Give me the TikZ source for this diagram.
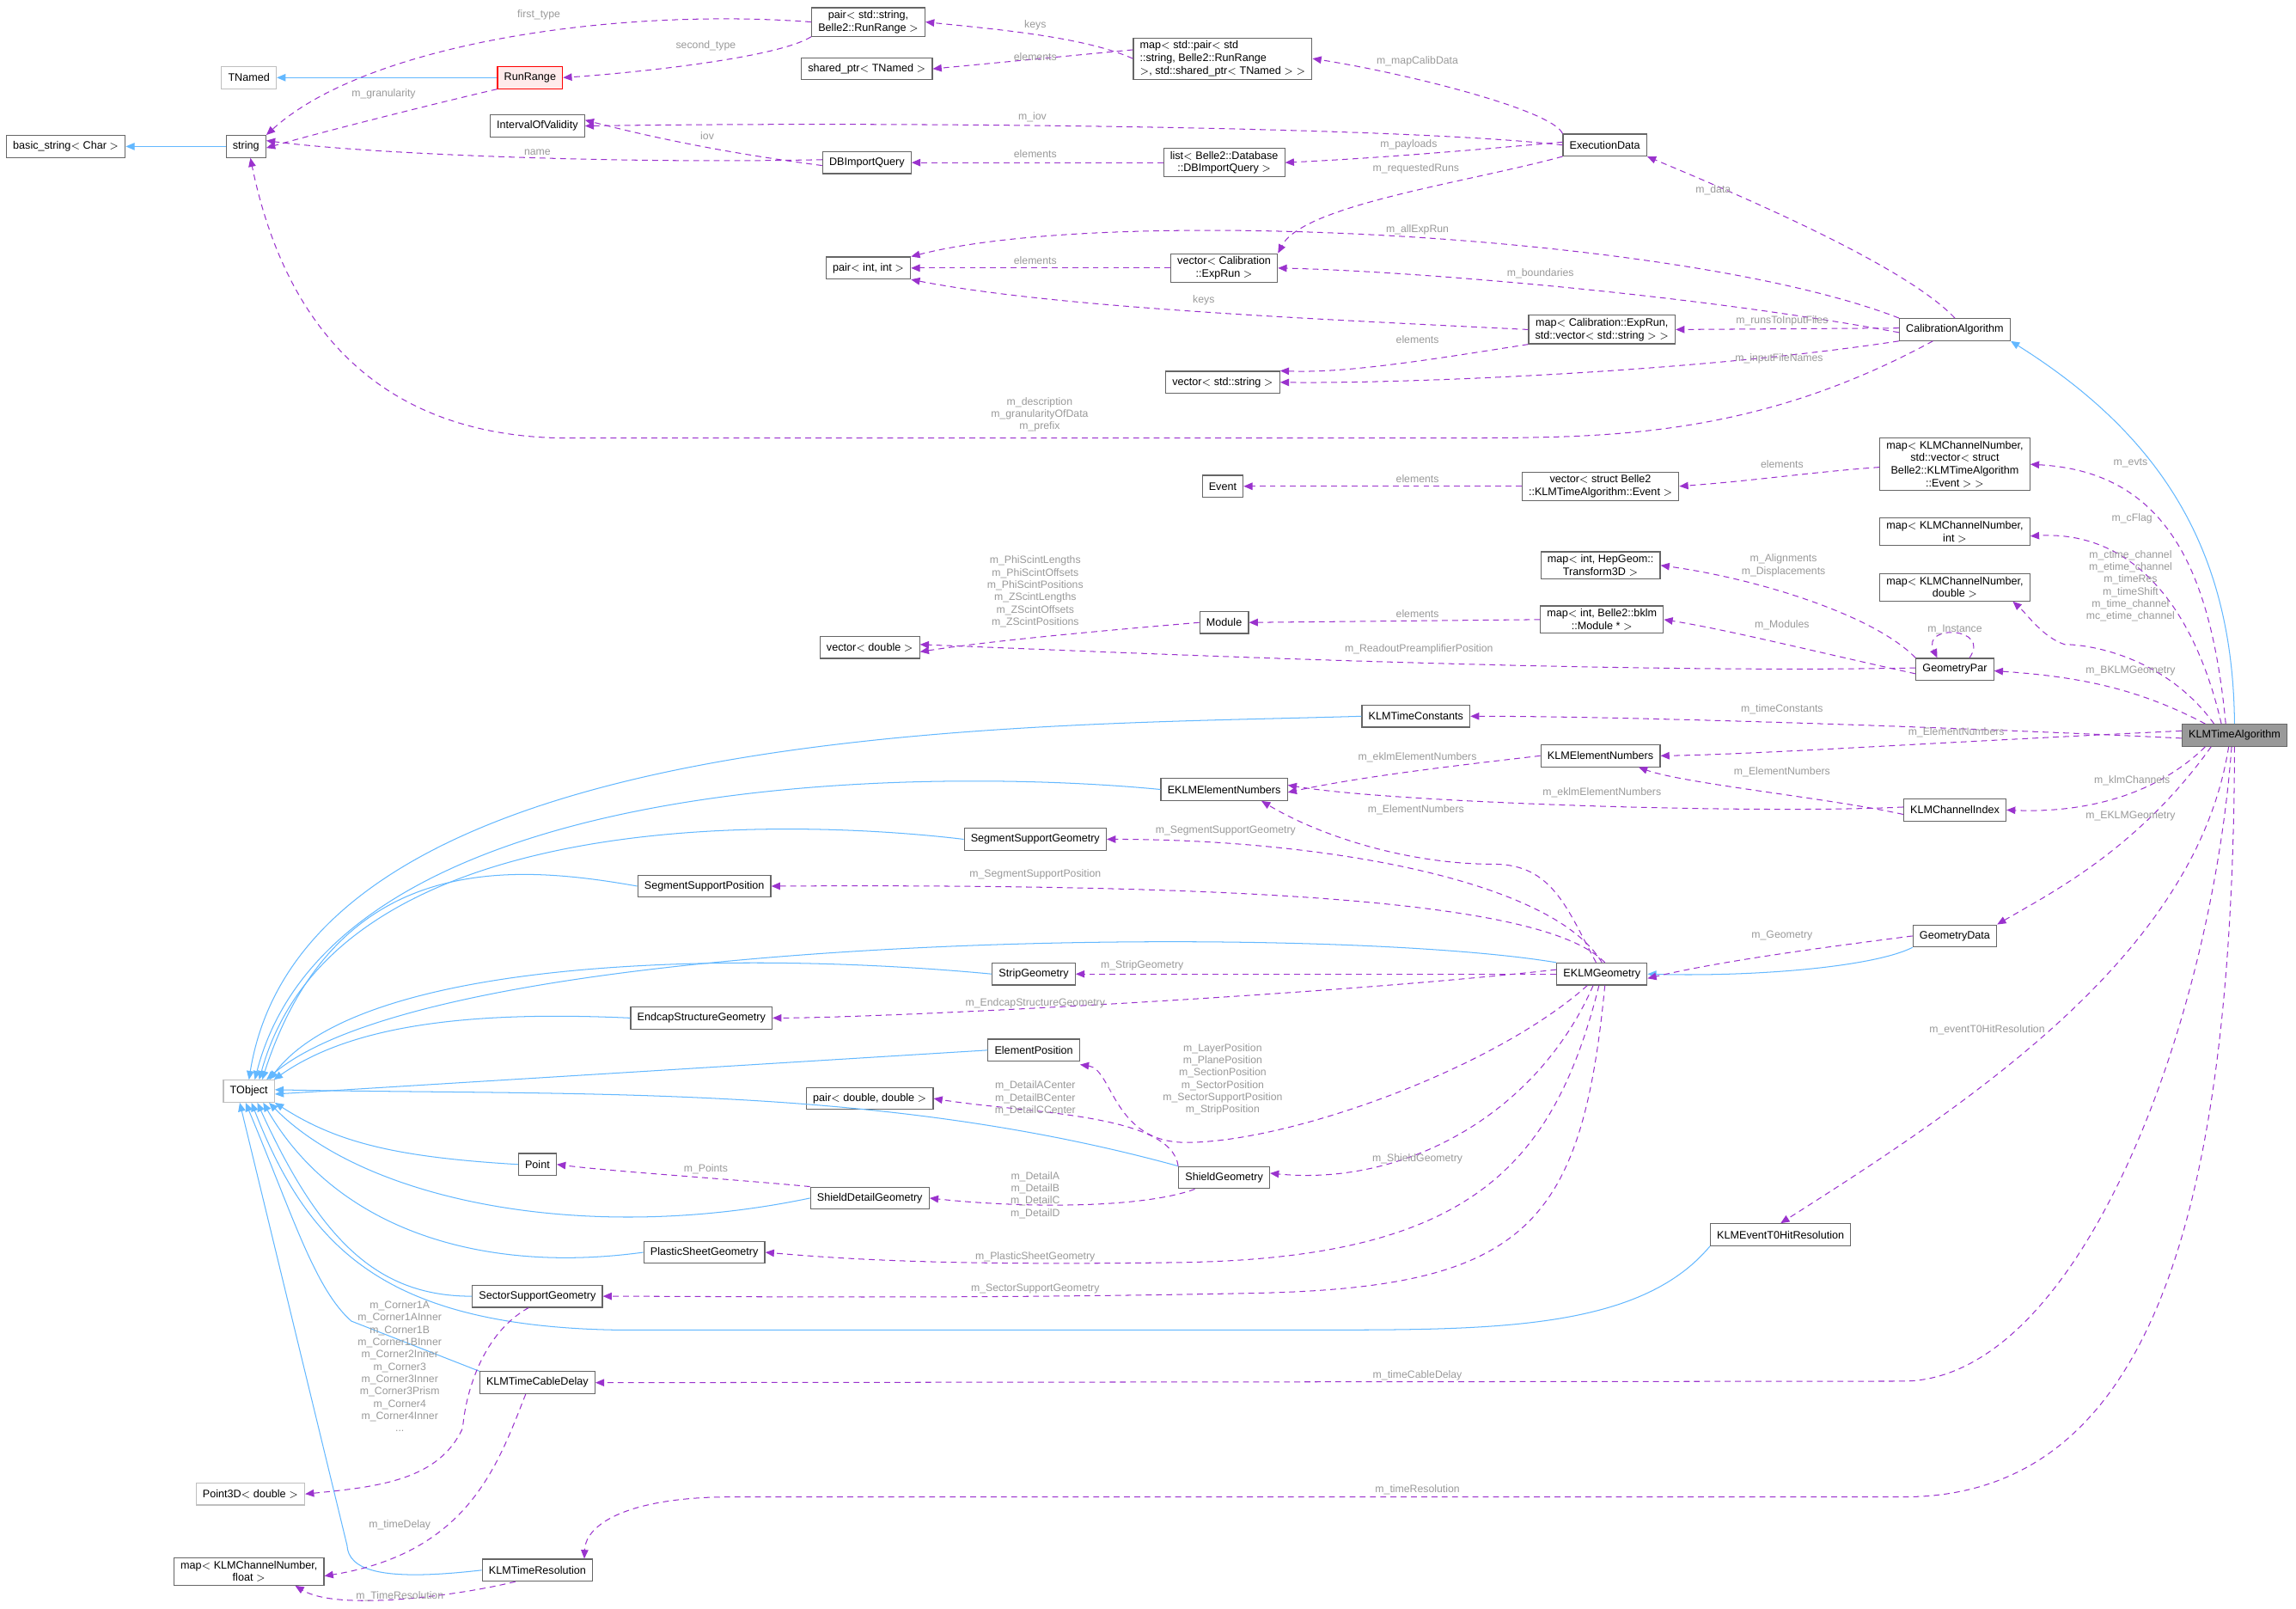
\documentclass[tikz,border=0pt]{standalone}
\usepackage{fontspec}
\setmainfont{Liberation Sans}
\usetikzlibrary{arrows.meta}
\definecolor{edgeP}{HTML}{9A32CD}
\definecolor{edgeB}{HTML}{63B8FF}
\definecolor{lblG}{HTML}{9A9A9A}
\definecolor{bordG}{HTML}{666666}
\definecolor{bordL}{HTML}{BFBFBF}
\begin{document}
\begin{tikzpicture}[x=1pt,y=-1pt,
  every node/.style={font=\fontsize{7.4}{8.6}\selectfont},
  box/.style={draw=bordG,line width=0.7pt,fill=white,inner xsep=4.5pt,inner ysep=2pt,minimum height=15pt,align=center},
  gbox/.style={box,draw=bordL},
  lbl/.style={text=lblG,inner sep=0pt,align=center,font=\fontsize{7.2}{8.4}\selectfont},
  dep/.style={draw=edgeP,dash pattern=on 4pt off 3pt,line width=0.6pt,-{Triangle[length=6pt,width=5pt]}},
  inh/.style={draw=edgeB,line width=0.6pt,-{Triangle[length=6pt,width=5pt,fill=edgeB]}}]
\useasboundingbox (0,0) rectangle (1568,1098);
\fill[white] (0,0) rectangle (1568,1098);
% nodes
\node[box] (bstr) at (45,100) {basic\_string$<$ Char $>$};
\node[box] (str) at (168,100) {string};
\node[gbox] (tnamed) at (170,53) {TNamed};
\node[box,draw=red,fill=red!8] (runrange) at (362,53) {RunRange};
\node[box] (pairSR) at (593,15) {pair$<$ std::string,\\ Belle2::RunRange $>$};
\node[box] (sptr) at (592,47) {shared\_ptr$<$ TNamed $>$};
\node[box,align=left] (mapPair) at (835,40) {map$<$ std::pair$<$ std\\::string, Belle2::RunRange\\ $>$, std::shared\_ptr$<$ TNamed $>$ $>$};
\node[box] (iov) at (367,86) {IntervalOfValidity};
\node[box] (dbiq) at (592,111) {DBImportQuery};
\node[box] (listdb) at (836,111) {list$<$ Belle2::Database\\::DBImportQuery $>$};
\node[box] (exec) at (1096,99) {ExecutionData};
\node[box] (pairII) at (593,183) {pair$<$ int, int $>$};
\node[box] (vecER) at (836,183) {vector$<$ Calibration\\::ExpRun $>$};
\node[box] (mapER) at (1094,225) {map$<$ Calibration::ExpRun,\\std::vector$<$ std::string $>$ $>$};
\node[box] (calib) at (1335,225) {CalibrationAlgorithm};
\node[box] (vecS) at (835,261) {vector$<$ std::string $>$};
\node[box] (event) at (835,332) {Event};
\node[box] (vecEv) at (1093,332) {vector$<$ struct Belle2\\::KLMTimeAlgorithm::Event $>$};
\node[box] (mapEvts) at (1335,317) {map$<$ KLMChannelNumber,\\std::vector$<$ struct\\ Belle2::KLMTimeAlgorithm\\::Event $>$ $>$};
\node[box] (mapInt) at (1335,363) {map$<$ KLMChannelNumber,\\int $>$};
\node[box] (mapDbl) at (1335,401) {map$<$ KLMChannelNumber,\\double $>$};
\node[box] (trans) at (1093,386) {map$<$ int, HepGeom::\\Transform3D $>$};
\node[box] (bklm) at (1094,423) {map$<$ int, Belle2::bklm\\::Module * $>$};
\node[box] (module) at (836,425) {Module};
\node[box] (vecD) at (594,442) {vector$<$ double $>$};
\node[box] (gpar) at (1335,457) {GeometryPar};
\node[box] (ktc) at (967,489) {KLMTimeConstants};
\node[box,fill=black!40] (kta) at (1526,502) {KLMTimeAlgorithm};
\node[box] (ken) at (1093,516) {KLMElementNumbers};
\node[box] (eken) at (836,539) {EKLMElementNumbers};
\node[box] (kci) at (1335,553) {KLMChannelIndex};
\node[box] (ssg) at (707,573) {SegmentSupportGeometry};
\node[box] (ssp) at (481,605) {SegmentSupportPosition};
\node[box] (gdata) at (1335,639) {GeometryData};
\node[box] (eg) at (1094,665) {EKLMGeometry};
\node[box] (strip) at (706,665) {StripGeometry};
\node[box] (ecs) at (479,695) {EndcapStructureGeometry};
\node[box] (epos) at (706,717) {ElementPosition};
\node[gbox] (tobj) at (170,745) {TObject};
\node[box] (pairDD) at (594,750) {pair$<$ double, double $>$};
\node[box] (shield) at (836,804) {ShieldGeometry};
\node[box] (point) at (367,795) {Point};
\node[box] (sdg) at (594,818) {ShieldDetailGeometry};
\node[box] (psg) at (481,855) {PlasticSheetGeometry};
\node[box] (t0) at (1216,843) {KLMEventT0HitResolution};
\node[box] (secsg) at (367,885) {SectorSupportGeometry};
\node[box] (cable) at (367,944) {KLMTimeCableDelay};
\node[gbox] (p3d) at (171,1020) {Point3D$<$ double $>$};
\node[box] (mapF) at (170,1073) {map$<$ KLMChannelNumber,\\float $>$};
\node[box] (tres) at (367,1072) {KLMTimeResolution};
% inheritance
\draw[inh] (str) -- (bstr);
\draw[inh] (runrange) -- (tnamed);
\draw[inh] (kta.north) .. controls (1525,380) and (1480,300) .. (calib.south east);
\draw[inh] (gdata.south west) .. controls (1280,660) and (1200,667) .. (eg.east);
\draw[inh] (ktc.west) .. controls (700,496) and (210,490) .. (tobj.north);
\draw[inh] (eken.west) .. controls (650,525) and (230,520) .. ([xshift=4pt]tobj.north);
\draw[inh] (ssg.west) .. controls (550,560) and (230,545) .. ([xshift=7pt]tobj.north);
\draw[inh] (ssp.west) .. controls (350,590) and (230,580) .. ([xshift=9pt]tobj.north);
\draw[inh] (eg.north west) .. controls (900,630) and (300,635) .. ([xshift=12pt]tobj.north);
\draw[inh] (strip.west) .. controls (520,650) and (250,650) .. ([xshift=14pt]tobj.north);
\draw[inh] (ecs.west) .. controls (320,690) and (240,700) .. ([xshift=17pt]tobj.north);
\draw[inh] (epos.west) -- ([yshift=-2pt]tobj.east);
\draw[inh] (shield.north west) .. controls (600,740) and (400,748) .. ([yshift=1pt]tobj.east);
\draw[inh] (point.west) .. controls (270,790) and (230,780) .. (tobj.south east);
\draw[inh] (sdg.west) .. controls (400,850) and (250,820) .. ([xshift=-4pt]tobj.south east);
\draw[inh] (psg.west) .. controls (330,870) and (230,840) .. ([xshift=-8pt]tobj.south east);
\draw[inh] (secsg.west) .. controls (260,885) and (220,850) .. ([xshift=-12pt]tobj.south east);
\draw[inh] (t0.south west) .. controls (1120,908) and (1020,908) .. (900,908) -- (420,908) .. controls (260,905) and (210,850) .. ([xshift=-16pt]tobj.south east);
\draw[inh] (cable.north west) -- (240,902) .. controls (215,880) and (200,830) .. ([xshift=-20pt]tobj.south east);
\draw[inh] (tres.west) .. controls (260,1080) and (238,1072) .. (237,1055) -- ([xshift=-24pt]tobj.south east);
% dependencies
\draw[dep] (pairSR.west) .. controls (420,5) and (250,30) .. (str.north east);
\node[lbl] (l1) at (368,10) {first\_type};
\draw[dep] (pairSR.south west) .. controls (530,40) and (430,50) .. (runrange.east);
\node[lbl] (l2) at (482,31) {second\_type};
\draw[dep] (runrange.south west) .. controls (300,70) and (220,90) .. ([yshift=-1pt]str.east);
\node[lbl] (l3) at (262,64) {m\_granularity};
\draw[dep] (mapPair.west) .. controls (740,25) and (680,20) .. (pairSR.east);
\node[lbl] (l4) at (707,17) {keys};
\draw[dep] ([yshift=6pt]mapPair.west) -- (sptr.east);
\node[lbl] (l5) at (707,39) {elements};
\draw[dep] (exec.north west) .. controls (1060,75) and (960,50) .. (mapPair.east);
\node[lbl] (l6) at (968,42) {m\_mapCalibData};
\draw[dep] (exec.west) .. controls (950,86) and (600,83) .. (iov.east);
\node[lbl] (l7) at (705,80) {m\_iov};
\draw[dep] ([yshift=-2pt]dbiq.west) .. controls (500,105) and (450,95) .. ([yshift=4pt]iov.east);
\node[lbl] (l8) at (483,93) {iov};
\draw[dep] ([yshift=2pt]dbiq.west) .. controls (420,112) and (250,105) .. ([yshift=4pt]str.east);
\node[lbl] (l9) at (367,104) {name};
\draw[dep] (listdb.west) -- (dbiq.east);
\node[lbl] (l10) at (707,105) {elements};
\draw[dep] ([yshift=2pt]exec.west) .. controls (1000,103) and (940,108) .. (listdb.east);
\node[lbl] (l11) at (962,99) {m\_payloads};
\draw[dep] (exec.south west) .. controls (1000,125) and (890,140) .. (vecER.north east);
\node[lbl] (l12) at (967,115) {m\_requestedRuns};
\draw[dep] (calib.north) .. controls (1300,180) and (1180,130) .. (exec.south east);
\node[lbl] (l13) at (1170,130) {m\_data};
\draw[dep] (calib.north west) .. controls (1150,160) and (760,140) .. (pairII.north east);
\node[lbl] (l14) at (968,157) {m\_allExpRun};
\draw[dep] (vecER.west) -- (pairII.east);
\node[lbl] (l15) at (707,178) {elements};
\draw[dep] ([yshift=-2pt]calib.west) .. controls (1150,200) and (960,185) .. (vecER.east);
\node[lbl] (l16) at (1052,187) {m\_boundaries};
\draw[dep] (mapER.west) .. controls (900,218) and (720,210) .. (pairII.south east);
\node[lbl] (l17) at (822,205) {keys};
\draw[dep] ([yshift=1pt]calib.west) -- (mapER.east);
\node[lbl] (l18) at (1217,219) {m\_runsToInputFiles};
\draw[dep] (mapER.south west) .. controls (980,245) and (920,255) .. (vecS.north east);
\node[lbl] (l19) at (968,232) {elements};
\draw[dep] (calib.south west) .. controls (1150,255) and (950,262) .. (vecS.east);
\node[lbl] (l20) at (1215,245) {m\_inputFileNames};
\draw[dep] ([xshift=-15pt]calib.south) .. controls (1200,298) and (1100,299) .. (1000,299) -- (380,299) .. controls (240,295) and (190,200) .. ([xshift=3pt]str.south);
\node[lbl] (l21) at (710,283) {m\_description\\m\_granularityOfData\\m\_prefix};
\draw[dep] ([yshift=-2pt]mapEvts.west) .. controls (1240,322) and (1200,328) .. (vecEv.east);
\node[lbl] (l22) at (1217,317) {elements};
\draw[dep] (vecEv.west) -- (event.east);
\node[lbl] (l23) at (968,327) {elements};
\draw[dep] ([xshift=-6pt]kta.north) .. controls (1510,390) and (1480,322) .. (mapEvts.east);
\node[lbl] (l24) at (1455,316) {m\_evts};
\draw[dep] ([xshift=-9pt]kta.north) .. controls (1500,420) and (1460,362) .. ([yshift=-3pt]mapInt.east);
\node[lbl] (l25) at (1456,354) {m\_cFlag};
\draw[dep] ([xshift=-14pt]kta.north) .. controls (1480,450) and (1430,440) .. (1410,440) .. controls (1395,435) and (1385,420) .. ([xshift=-12pt]mapDbl.south east);
\node[lbl] (l26) at (1455,400) {m\_ctime\_channel\\m\_etime\_channel\\m\_timeRes\\m\_timeShift\\m\_time\_channel\\mc\_etime\_channel};
\draw[dep] ([xshift=-20pt]kta.north) .. controls (1460,470) and (1420,462) .. ([yshift=-1pt]gpar.east);
\node[lbl] (l27) at (1455,458) {m\_BKLMGeometry};
\draw[dep] (gpar.north west) .. controls (1280,420) and (1200,395) .. (trans.east);
\node[lbl] (l28) at (1218,386) {m\_Alignments\\m\_Displacements};
\draw[dep] ([xshift=10pt]gpar.north) .. controls (1360,428) and (1312,426) .. ([xshift=-12pt]gpar.north);
\node[lbl] (l29) at (1335,430) {m\_Instance};
\draw[dep] ([yshift=-3pt]gpar.west) .. controls (1240,445) and (1180,430) .. (bklm.east);
\node[lbl] (l30) at (1217,427) {m\_Modules};
\draw[dep] (bklm.west) -- (module.east);
\node[lbl] (l31) at (968,419) {elements};
\draw[dep] (module.west) .. controls (760,430) and (680,437) .. ([yshift=-3pt]vecD.east);
\node[lbl] (l32) at (707,404) {m\_PhiScintLengths\\m\_PhiScintOffsets\\m\_PhiScintPositions\\m\_ZScintLengths\\m\_ZScintOffsets\\m\_ZScintPositions};
\draw[dep] ([yshift=1pt]gpar.west) .. controls (1100,460) and (800,447) .. ([yshift=2pt]vecD.east);
\node[lbl] (l33) at (969,443) {m\_ReadoutPreamplifierPosition};
\draw[dep] ([yshift=-2pt]kta.west) .. controls (1300,495) and (1100,489) .. (ktc.east);
\node[lbl] (l34) at (1217,484) {m\_timeConstants};
\draw[dep] ([yshift=3pt]kta.west) .. controls (1300,508) and (1200,515) .. (ken.east);
\node[lbl] (l35) at (1336,500) {m\_ElementNumbers};
\draw[dep] (ken.west) .. controls (1000,522) and (930,530) .. ([yshift=-2pt]eken.east);
\node[lbl] (l36) at (968,517) {m\_eklmElementNumbers};
\draw[dep] ([yshift=-3pt]kci.west) .. controls (1250,545) and (1150,535) .. ([xshift=-15pt]ken.south east);
\node[lbl] (l37) at (1217,527) {m\_ElementNumbers};
\draw[dep] ([yshift=2pt]kci.west) .. controls (1200,556) and (950,548) .. ([yshift=3pt]eken.east);
\node[lbl] (l38) at (1094,541) {m\_eklmElementNumbers};
\draw[dep] ([xshift=-20pt]kta.south) .. controls (1470,545) and (1420,555) .. (kci.east);
\node[lbl] (l39) at (1456,533) {m\_klmChannels};
\draw[dep] ([xshift=-16pt]kta.south) .. controls (1460,580) and (1400,610) .. (gdata.north east);
\node[lbl] (l40) at (1455,557) {m\_EKLMGeometry};
\draw[dep] (gdata.west) .. controls (1260,645) and (1180,655) .. ([yshift=-3pt]eg.east);
\node[lbl] (l41) at (1217,639) {m\_Geometry};
\draw[dep] ([xshift=-4pt]eg.north) .. controls (1070,620) and (1060,590) .. (1020,590) .. controls (960,590) and (900,570) .. ([xshift=-18pt]eken.south east);
\node[lbl] (l42) at (967,553) {m\_ElementNumbers};
\draw[dep] (eg.north) .. controls (1060,600) and (900,573) .. (ssg.east);
\node[lbl] (l43) at (837,567) {m\_SegmentSupportGeometry};
\draw[dep] ([xshift=2pt]eg.north) .. controls (1060,620) and (900,603) .. (ssp.east);
\node[lbl] (l44) at (707,597) {m\_SegmentSupportPosition};
\draw[dep] (eg.west) -- (strip.east);
\node[lbl] (l45) at (780,659) {m\_StripGeometry};
\draw[dep] ([yshift=3pt]eg.west) .. controls (900,680) and (600,695) .. (ecs.east);
\node[lbl] (l46) at (707,685) {m\_EndcapStructureGeometry};
\draw[dep] ([xshift=-10pt]eg.south) .. controls (1020,730) and (880,780) .. (810,780) .. controls (760,780) and (760,730) .. ([yshift=-2pt]epos.south east);
\node[lbl] (l47) at (835,737) {m\_LayerPosition\\m\_PlanePosition\\m\_SectionPosition\\m\_SectorPosition\\m\_SectorSupportPosition\\m\_StripPosition};
\draw[dep] ([xshift=-6pt]eg.south) .. controls (1050,760) and (960,810) .. ([yshift=3pt]shield.east);
\node[lbl] (l48) at (968,791) {m\_ShieldGeometry};
\draw[dep] (shield.north west) .. controls (800,760) and (700,760) .. (pairDD.east);
\node[lbl] (l49) at (707,750) {m\_DetailACenter\\m\_DetailBCenter\\m\_DetailCCenter};
\draw[dep] ([xshift=-20pt]shield.south) .. controls (780,825) and (700,825) .. (sdg.east);
\node[lbl] (l50) at (707,816) {m\_DetailA\\m\_DetailB\\m\_DetailC\\m\_DetailD};
\draw[dep] (sdg.north west) .. controls (500,805) and (420,800) .. (point.east);
\node[lbl] (l51) at (482,798) {m\_Points};
\draw[dep] ([xshift=-2pt]eg.south) .. controls (1060,800) and (1000,860) .. (800,862) .. controls (650,864) and (580,860) .. (psg.east);
\node[lbl] (l52) at (707,858) {m\_PlasticSheetGeometry};
\draw[dep] ([xshift=2pt]eg.south) .. controls (1080,840) and (1040,880) .. (850,883) .. controls (650,887) and (500,885) .. (secsg.east);
\node[lbl] (l53) at (707,880) {m\_SectorSupportGeometry};
\draw[dep] ([xshift=-6pt]secsg.south) .. controls (330,910) and (318,950) .. (316,975) .. controls (300,1010) and (260,1015) .. (p3d.east);
\node[lbl] (l54) at (273,933) {m\_Corner1A\\m\_Corner1AInner\\m\_Corner1B\\m\_Corner1BInner\\m\_Corner2Inner\\m\_Corner3\\m\_Corner3Inner\\m\_Corner3Prism\\m\_Corner4\\m\_Corner4Inner\\...};
\draw[dep] ([xshift=-4pt]kta.south) .. controls (1500,650) and (1350,750) .. (t0.north);
\node[lbl] (l55) at (1357,703) {m\_eventT0HitResolution};
\draw[dep] ([xshift=-2pt]kta.south) .. controls (1510,700) and (1420,942) .. (1300,943) -- (cable.east);
\node[lbl] (l56) at (968,939) {m\_timeCableDelay};
\draw[dep] (kta.south) .. controls (1525,850) and (1460,1022) .. (1300,1022) -- (500,1022) .. controls (430,1022) and (400,1040) .. ([xshift=-6pt]tres.north east);
\node[lbl] (l57) at (968,1017) {m\_timeResolution};
\draw[dep] ([xshift=-8pt]cable.south) .. controls (340,1000) and (320,1060) .. ([yshift=-3pt]mapF.east);
\node[lbl] (l58) at (273,1041) {m\_timeDelay};
\draw[dep] ([xshift=-15pt]tres.south) .. controls (310,1090) and (230,1100) .. ([xshift=-20pt]mapF.south east);
\node[lbl] (l59) at (273,1090) {m\_TimeResolution};
\end{tikzpicture}
\end{document}
